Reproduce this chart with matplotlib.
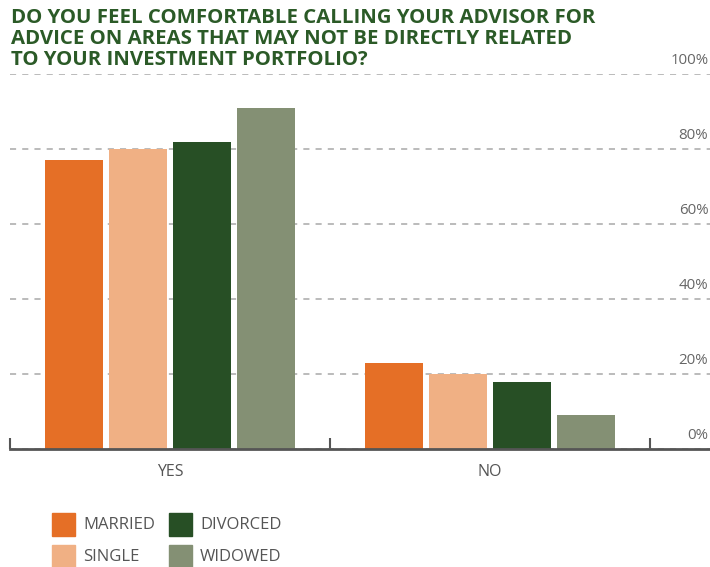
import matplotlib
matplotlib.use("Agg")
import matplotlib.pyplot as plt
from matplotlib.patches import Rectangle
from matplotlib.transforms import offset_copy

categories = ["YES", "NO"]
series_names = ["MARRIED", "SINGLE", "DIVORCED", "WIDOWED"]
married = [77, 23]
single = [80, 20]
divorced = [82, 18]
widowed = [91, 9]
y_ticks = [0, 20, 40, 60, 80, 100]
y_tick_labels = ["0%", "20%", "40%", "60%", "80%", "100%"]
title = "DO YOU FEEL COMFORTABLE CALLING YOUR ADVISOR FOR\nADVICE ON AREAS THAT MAY NOT BE DIRECTLY RELATED\nTO YOUR INVESTMENT PORTFOLIO?"

colors = ["#E56F26", "#F0B084", "#274F25", "#849074"]
values = [married, single, divorced, widowed]

plt.rcParams['font.family'] = ['Open Sans', 'DejaVu Sans']
W, H = 710, 567
fig = plt.figure(figsize=(W / 100, H / 100), dpi=100)
ax = fig.add_axes([10 / W, (H - 449) / H, 700 / W, 375 / H])

step = 0.2
width = 58 / 320
for i, (name, vals, c) in enumerate(zip(series_names, values, colors)):
    xs = [k + (i - 1.5) * step for k in range(len(categories))]
    ax.bar(xs, vals, width=width, color=c, zorder=3, label=name)

ax.set_xlim(-0.5, 1.6875)
ax.set_ylim(0, 100)
ax.set_yticks(y_ticks)
ax.yaxis.grid(True, color="#A8A8A8", linestyle=(0, (4, 4)), linewidth=1.1, zorder=0)
ax.tick_params(axis='y', left=False, labelleft=False)
ax.set_xticks([-0.5, 0.5, 1.5])
ax.set_xticklabels([])
ax.tick_params(axis='x', direction='in', length=8, width=1.5, color="#555555")
for s in ["top", "right", "left"]:
    ax.spines[s].set_visible(False)
ax.spines["bottom"].set_color("#555555")
ax.spines["bottom"].set_linewidth(2)
ax.spines["bottom"].set_zorder(4)

tr = offset_copy(ax.get_yaxis_transform(), fig=fig, x=0, y=6, units='dots')
for v, lab in zip(y_ticks, y_tick_labels):
    ax.text(0.9975, v, lab, transform=tr, ha='right', va='bottom',
            fontsize=10.8, color="#666666")

for k, cat in enumerate(categories):
    ax.text(k, -4.0, cat, ha='center', va='top', fontsize=11.5, color="#555555")

fig.text(11 / W, 1 - 8 / H, title, ha='left', va='top', fontsize=14.7,
         fontweight='bold', color="#2B5A27", linespacing=1.06)

# legend
leg_pos = [(52, 513), (52, 545), (169, 513), (169, 545)]
for (x0, y0), name, c in zip(leg_pos, series_names, colors):
    fig.patches.append(Rectangle((x0 / W, 1 - (y0 + 23) / H), 23 / W, 23 / H,
                                 transform=fig.transFigure, color=c))
    fig.text((x0 + 31) / W, 1 - (y0 + 12) / H, name, ha='left', va='center',
             fontsize=12, color="#555555")

fig.savefig("out.png", dpi=100)
